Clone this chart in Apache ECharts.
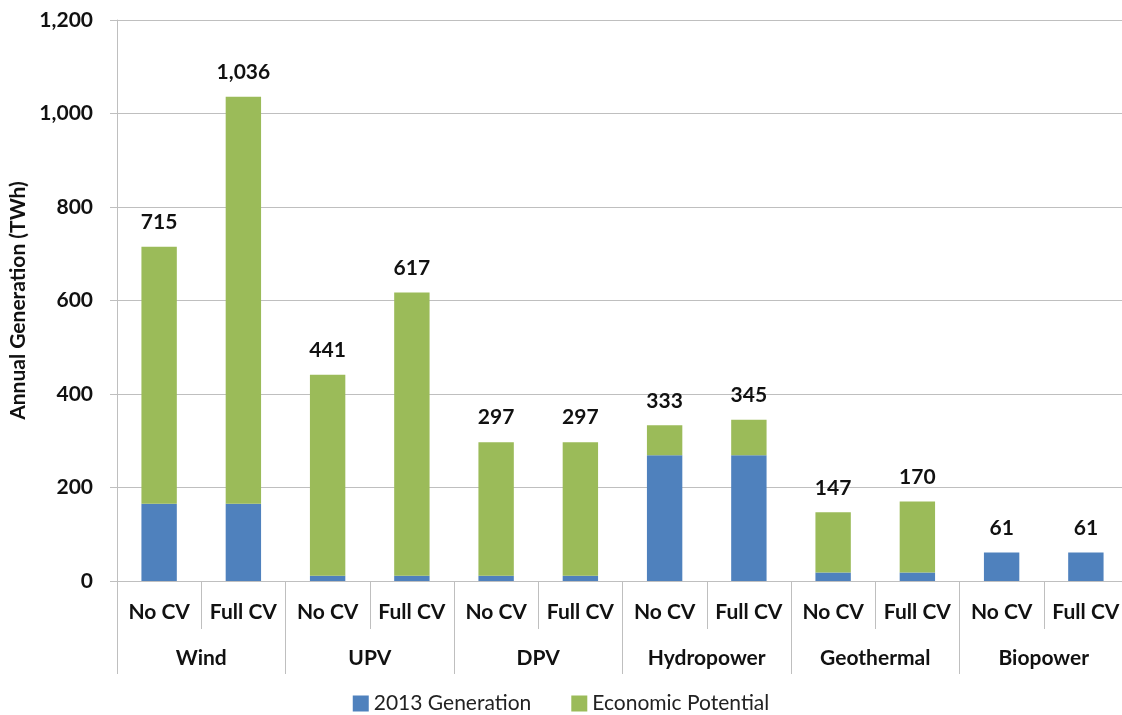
<!DOCTYPE html>
<html>
<head>
<meta charset="utf-8">
<script src="https://cdn.jsdelivr.net/npm/echarts@6/dist/echarts.min.js"></script>
<style>
  html, body { margin: 0; padding: 0; background: #fff; }
  #chart { width: 1122px; height: 715px; }
</style>
</head>
<body>
<div id="chart"></div>
<script>
// scenario labels under each bar, and technology groups underneath
const cases = ['No CV', 'Full CV', 'No CV', 'Full CV', 'No CV', 'Full CV',
  'No CV', 'Full CV', 'No CV', 'Full CV', 'No CV', 'Full CV']
const groups = ['Wind', 'UPV', 'DPV', 'Hydropower', 'Geothermal', 'Biopower']
// TWh
const totals = [715, 1036, 441, 617, 297, 297, 333, 345, 147, 170, 61, 61]
const gen2013 = [165, 165, 11, 11, 11, 11, 269, 269, 18, 18, 61, 61]
const economic = totals.map((t, i) => t - gen2013[i])

const font = 'Lato, "Open Sans", sans-serif'
const grey = '#bfbfbf'

const chart = echarts.init(document.getElementById('chart'))
chart.setOption({
  animation: false,
  textStyle: { fontFamily: font },
  grid: { left: 117, right: -6, top: 20, bottom: 134, outerBoundsMode: 'none', containLabel: false },
  legend: {
    bottom: -4,
    left: 'center',
    itemWidth: 16,
    itemHeight: 16,
    itemGap: 40,
    icon: 'rect',
    textStyle: { fontSize: 21, color: '#222', fontFamily: font },
    data: ['2013 Generation', 'Economic Potential']
  },
  xAxis: [
    {
      type: 'category',
      data: cases,
      axisLine: { lineStyle: { color: grey } },
      axisTick: { show: true, length: 48, lineStyle: { color: grey }, interval: 0 },
      axisLabel: { interval: 0, margin: 21, fontSize: 21, fontWeight: 'bold', color: '#111' }
    },
    {
      type: 'category',
      data: groups,
      position: 'bottom',
      axisLine: { show: false },
      axisTick: { show: true, length: 93, lineStyle: { color: grey }, interval: 0 },
      axisLabel: { interval: 0, margin: 67, fontSize: 21, fontWeight: 'bold', color: '#111' }
    }
  ],
  yAxis: {
    type: 'value',
    min: 0,
    max: 1200,
    interval: 200,
    name: 'Annual Generation (TWh)',
    nameLocation: 'middle',
    nameGap: 88,
    nameTextStyle: { fontSize: 21, fontWeight: 'bold', color: '#111' },
    axisLine: { show: true, lineStyle: { color: grey } },
    axisTick: { show: true, length: 7, lineStyle: { color: grey } },
    splitLine: { lineStyle: { color: grey } },
    axisLabel: {
      margin: 24,
      fontSize: 21,
      fontWeight: 'bold',
      color: '#111',
      formatter: v => v.toLocaleString('en-US')
    }
  },
  series: [
    {
      name: '2013 Generation',
      type: 'bar',
      stack: 'gen',
      barWidth: '42%',
      itemStyle: { color: '#4f81bd' },
      data: gen2013
    },
    {
      name: 'Economic Potential',
      type: 'bar',
      stack: 'gen',
      barWidth: '42%',
      itemStyle: { color: '#9bbb59' },
      label: {
        show: true,
        position: 'top',
        distance: 14,
        fontSize: 21,
        fontWeight: 'bold',
        color: '#111',
        formatter: p => totals[p.dataIndex].toLocaleString('en-US')
      },
      data: economic
    }
  ]
})
</script>
</body>
</html>
